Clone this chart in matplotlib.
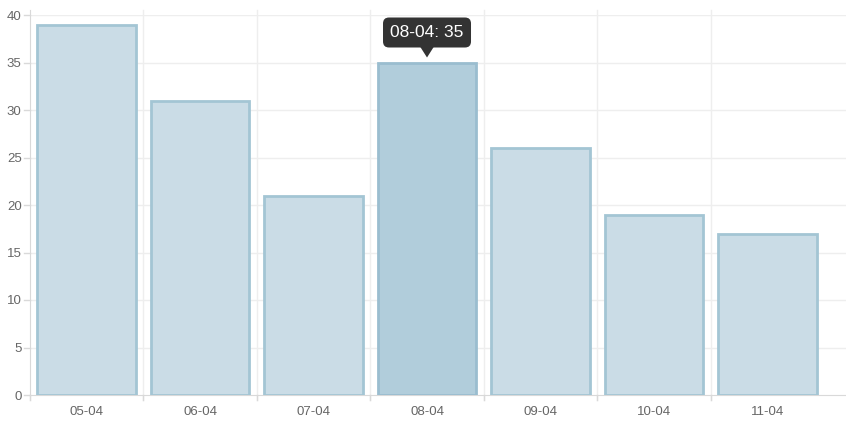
import matplotlib.pyplot as plt
from matplotlib.patches import FancyBboxPatch, Polygon
from matplotlib.transforms import IdentityTransform

plt.rcParams['font.family'] = ['Liberation Sans', 'DejaVu Sans']

# Data
labels = ['05-04', '06-04', '07-04', '08-04', '09-04', '10-04', '11-04']
values = [39, 31, 21, 35, 26, 19, 17]
hover_index = 3

fill = '#cadce6'
edge = '#a3c5d4'
fill_hover = '#b1cddb'
edge_hover = '#9abdcf'

fig = plt.figure(figsize=(8.46, 4.22), dpi=100)
ax = fig.add_axes([30 / 846, 27 / 422, 816 / 846, 380 / 422])

x = list(range(len(labels)))
fills = [fill_hover if i == hover_index else fill for i in x]
edges = [edge_hover if i == hover_index else edge for i in x]
ax.bar(x, values, width=0.87, color=fills, edgecolor=edges, linewidth=2, zorder=3)

cat_w = 113.5
ax.set_xlim(-0.5, 6.5 + 22 / cat_w)
ax.set_ylim(0, 40)

# Grid
grid_c = '#eeeeee'
for yv in range(5, 45, 5):
    ax.axhline(yv, color=grid_c, lw=1, zorder=1)
for xv in [i + 0.5 for i in range(6)]:
    ax.plot([xv, xv], [-0.5, 40.5], color=grid_c, lw=1, zorder=1, clip_on=False)

ax.set_yticks(range(0, 45, 5))
ax.set_xticks(x)
ax.set_xticklabels(labels)
ax.tick_params(axis='both', colors='#666666', labelsize=9.5, length=0, pad=6)
ax.tick_params(axis='x', pad=8)

# tick marks on category boundaries
for xv in [i - 0.5 for i in range(7)]:
    ax.plot([xv, xv], [0, -0.55], color='#d9d9d9', lw=1, clip_on=False, zorder=2)
for yv in range(0, 45, 5):
    ax.plot([-0.5, -0.5 - 6 / cat_w], [yv, yv], color='#d9d9d9', lw=1, clip_on=False, zorder=2)

for s in ['top', 'right']:
    ax.spines[s].set_visible(False)
ax.spines['left'].set_color('#d9d9d9')
ax.spines['bottom'].set_color('#d9d9d9')
ax.spines['left'].set_bounds(-0.5, 40.5)

# Tooltip, drawn in pixel coordinates above the hovered bar
px, py = ax.transData.transform((hover_index, values[hover_index]))
tip_y = py + 5
base_y = tip_y + 10
bw, bh = 88, 30
box = FancyBboxPatch((px - bw / 2, base_y), bw, bh,
                     boxstyle='round,pad=0,rounding_size=6',
                     fc='#333333', ec='none', zorder=5, transform=IdentityTransform())
fig.patches.append(box)
arrow = Polygon([[px - 7, base_y + 1], [px + 7, base_y + 1], [px, tip_y]],
                closed=True, fc='#333333', ec='none', zorder=5, transform=IdentityTransform())
fig.patches.append(arrow)
fig.text(px / 846, (base_y + bh / 2) / 422, f'{labels[hover_index]}: {values[hover_index]}',
         color='white', fontsize=12.5, ha='center', va='center', zorder=6)

fig.savefig('out.png', dpi=100)
